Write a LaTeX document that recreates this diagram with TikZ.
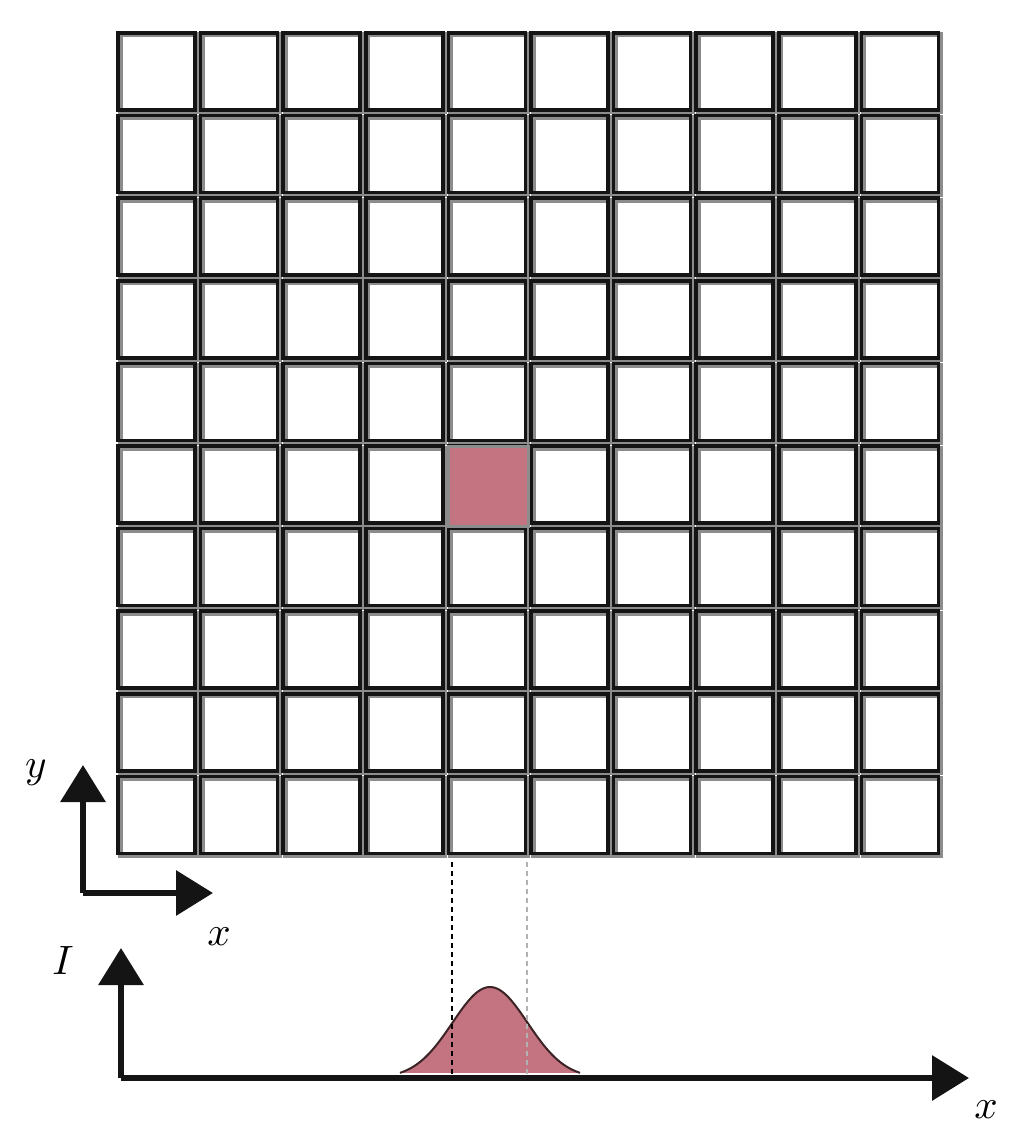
\documentclass[tikz,border=0pt]{standalone}
\usetikzlibrary{arrows.meta}
\definecolor{pinkc}{HTML}{C47480}
\definecolor{shadowc}{HTML}{8C8C8C}
\tikzset{
  cellbox/.style={draw=black!92, line width=3.6pt},
  cellshadow/.style={draw=shadowc, line width=5pt},
  axis/.style={line width=6.5pt, black!92, -{Triangle[width=44pt,length=37pt]}},
  guide/.style={line width=2.6pt, dash pattern=on 5pt off 4pt},
  lbl/.style={inner sep=0pt, scale=4.1}
}
\begin{document}
\begin{tikzpicture}[x=1pt,y=-1pt]
\useasboundingbox (0,0) rectangle (1026,1131);
% grid of detector cells
\foreach \i in {0,...,9} {
  \foreach \j in {0,...,9} {
    \pgfmathsetmacro\xa{118+82.6*\i}
    \pgfmathsetmacro\ya{33+82.6*\j}
    \draw[cellshadow] (\xa+2,\ya+2) rectangle ++(77,77);
    \draw[cellbox] (\xa,\ya) rectangle ++(77,77);
  }
}
% highlighted cell
\pgfmathsetmacro\xp{118+82.6*4}
\pgfmathsetmacro\yp{33+82.6*5}
\fill[white] (\xp-1,\yp-1) rectangle ++(82,82);
\draw[cellshadow, fill=pinkc] (\xp+1.5,\yp+1.5) rectangle ++(78,78);
\fill[pinkc] (\xp+2,\yp+2) rectangle ++(77,77);
% upper axes
\coordinate (o1) at (83,893);
\coordinate (y1) at (83,765);
\coordinate (x1) at (213,893);
\draw[axis] (o1) -- (y1);
\draw[axis] (o1) -- (x1);
\node[lbl] (ylab) at (36,773) {$y$};
\node[lbl] (xlab) at (219,937) {$x$};
% lower axes
\coordinate (o2) at (121,1078);
\coordinate (y2) at (121,948);
\coordinate (x2) at (969,1078);
% gaussian
\fill[pinkc] plot[domain=400:580, samples=80, smooth] (\x,{1078-91*exp(-((\x-490)^2)/(2*37.6^2))}) -- cycle;
\draw[line width=2pt, draw=black!70!pinkc] plot[domain=400:580, samples=80, smooth] (\x,{1078-91*exp(-((\x-490)^2)/(2*37.6^2))});
% guide lines
\coordinate (gl1) at (452,862);
\coordinate (gl2) at (452,1078);
\coordinate (gr1) at (527,862);
\coordinate (gr2) at (527,1078);
\draw[guide, black] (gl1) -- (gl2);
\draw[guide, black!30] (gr1) -- (gr2);
\draw[axis] (o2) -- (y2);
\draw[axis] (o2) -- (x2);
\node[lbl] (ilab) at (63,960) {$I$};
\node[lbl] (xlab2) at (986,1110) {$x$};
\end{tikzpicture}
\end{document}
